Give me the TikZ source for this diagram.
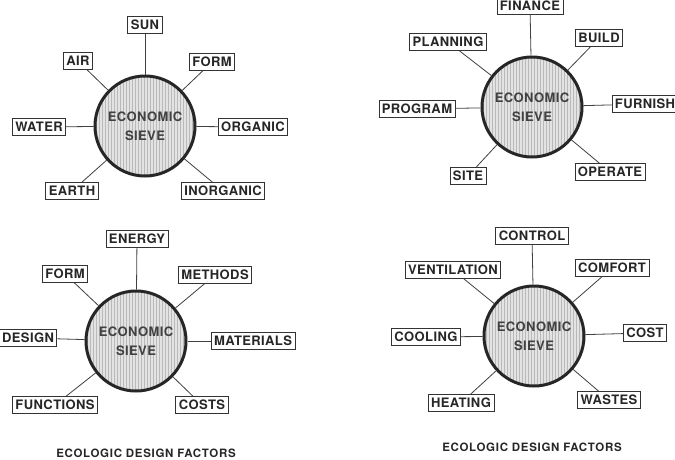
\documentclass[tikz,border=0pt]{standalone}
\usepackage{fontspec}
\setmainfont{TeX Gyre Heros}
\usetikzlibrary{patterns}
\tikzset{
	factor/.style={draw=black!80, line width=0.8pt, fill=white, inner xsep=3pt, inner ysep=0pt,
		minimum height=17pt, text=black!85,
		font=\fontsize{13}{14}\selectfont\bfseries\addfontfeatures{LetterSpace=3}},
	sieve/.style={circle, draw=black!85, line width=3pt, minimum size=100pt,
		preaction={fill=gray!22}, pattern=vertical lines, pattern color=gray!55,
		align=center, text=black!75,
		font=\fontsize{13}{19}\selectfont\bfseries\addfontfeatures{LetterSpace=3}},
	caption/.style={text=black!85,
		font=\fontsize{11.5}{13}\selectfont\bfseries\addfontfeatures{LetterSpace=6}}
}
\begin{document}
\begin{tikzpicture}[x=1pt, y=-1pt, every edge/.append style={draw=black!75, line width=0.8pt}]
	\useasboundingbox (0,0) rectangle (675,459);
	\fill[white] (0,0) rectangle (675,459);

	\node[sieve] at (145,126) (sieveA) {ECONOMIC\\SIEVE};
	\node[factor] at (145,25) (sun) {SUN};
	\node[factor] at (78,61) (air) {AIR};
	\node[factor] at (212,62) (formA) {FORM};
	\node[factor] at (39,127) (water) {WATER};
	\node[factor] at (253,127) (organic) {ORGANIC};
	\node[factor] at (72,191) (earth) {EARTH};
	\node[factor] at (223,191) (inorganic) {INORGANIC};
	\path (sieveA) edge (sun)
	(sieveA) edge (air)
	(sieveA) edge (formA)
	(sieveA) edge (water)
	(sieveA) edge (organic)
	(sieveA) edge (earth)
	(sieveA) edge (inorganic);

	\node[sieve] at (532,107) (sieveB) {ECONOMIC\\SIEVE};
	\node[factor] at (530,6) (finance) {FINANCE};
	\node[factor] at (448,42) (planning) {PLANNING};
	\node[factor] at (599,38) (build) {BUILD};
	\node[factor] at (417,109) (program) {PROGRAM};
	\node[factor] at (645,104) (furnish) {FURNISH};
	\node[factor] at (468,176) (site) {SITE};
	\node[factor] at (610,172) (operate) {OPERATE};
	\path (sieveB) edge (finance)
	(sieveB) edge (planning)
	(sieveB) edge (build)
	(sieveB) edge (program)
	(sieveB) edge (furnish)
	(sieveB) edge (site)
	(sieveB) edge (operate);

	\node[sieve] at (136,341) (sieveC) {ECONOMIC\\SIEVE};
	\node[factor] at (137,239) (energy) {ENERGY};
	\node[factor] at (65,274) (formC) {FORM};
	\node[factor] at (215,275) (methods) {METHODS};
	\node[factor] at (28,338) (design) {DESIGN};
	\node[factor] at (253,341) (materials) {MATERIALS};
	\node[factor] at (55,405) (functions) {FUNCTIONS};
	\node[factor] at (202,405) (costs) {COSTS};
	\path (sieveC) edge (energy)
	(sieveC) edge (formC)
	(sieveC) edge (methods)
	(sieveC) edge (design)
	(sieveC) edge (materials)
	(sieveC) edge (functions)
	(sieveC) edge (costs);
	\node[caption] at (146,453) (captionC) {ECOLOGIC DESIGN FACTORS};

	\node[sieve] at (534,336) (sieveD) {ECONOMIC\\SIEVE};
	\node[factor] at (532,236) (control) {CONTROL};
	\node[factor] at (453,270) (ventilation) {VENTILATION};
	\node[factor] at (612,268) (comfort) {COMFORT};
	\node[factor] at (426,337) (cooling) {COOLING};
	\node[factor] at (645,333) (cost) {COST};
	\node[factor] at (461,403) (heating) {HEATING};
	\node[factor] at (609,400) (wastes) {WASTES};
	\path (sieveD) edge (control)
	(sieveD) edge (ventilation)
	(sieveD) edge (comfort)
	(sieveD) edge (cooling)
	(sieveD) edge (cost)
	(sieveD) edge (heating)
	(sieveD) edge (wastes);
	\node[caption] at (532,447) (captionD) {ECOLOGIC DESIGN FACTORS};
\end{tikzpicture}
\end{document}
